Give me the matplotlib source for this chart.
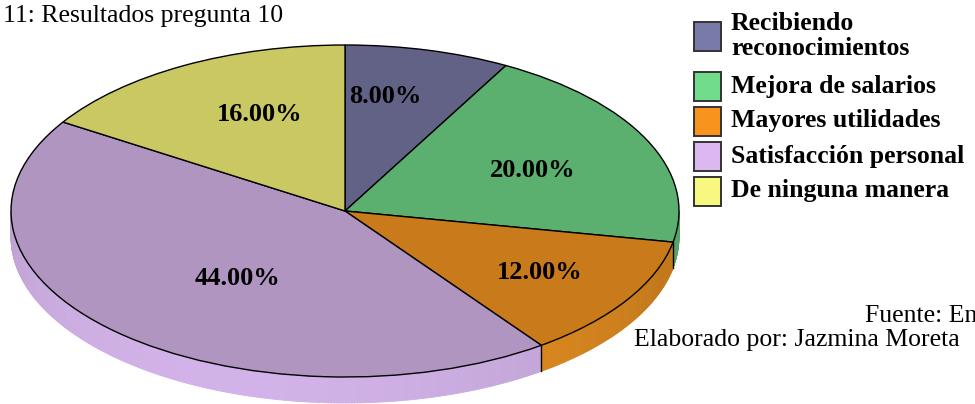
import numpy as np
import matplotlib.pyplot as plt
from matplotlib.patches import Rectangle
from matplotlib.collections import PolyCollection

# respuestas a la pregunta 10 (porcentajes)
categorias = ["Recibiendo\nreconocimientos", "Mejora de salarios", "Mayores utilidades",
              "Satisfacción personal", "De ninguna manera"]
valores = [8.0, 20.0, 12.0, 44.0, 16.0]

color_top = ["#626287", "#5cb06f", "#c97a1b", "#b095c1", "#c9c862"]
color_lado = ["#7070a0", "#66c27e", "#e89020", "#d2b2e8", "#e0e070"]
color_leyenda = ["#7a7aaa", "#70dc8c", "#f8941e", "#dcb8f0", "#f8f880"]

# posicion radial de cada etiqueta (x, y) relativa al radio
lab_rx = [0.48, 0.62, 0.69, 0.47, 0.53]
lab_ry = [0.715, 0.58, 0.69, 0.56, 0.66]

W, H = 975, 404
cx, cy = 345, 211        # centro del pie en pixeles
rx, ry = 334, 166        # semiejes de la elipse
prof = 26 / ry           # grosor del disco

fig = plt.figure(figsize=(W / 100, H / 100), dpi=100)
ax = fig.add_axes([0, 0, 1, 1])

ax.pie(valores, colors=color_top, startangle=90, counterclock=False,
       wedgeprops=dict(edgecolor="black", linewidth=1.0, zorder=3))
ax.set_aspect("auto")
ax.set_xlim(-cx / rx, (W - cx) / rx)
ax.set_ylim(-(H - cy) / ry, cy / ry)
ax.axis("off")

# lado del disco (solo la mitad frontal)
frac = np.array(valores) / sum(valores)
bordes = 90 - 360 * np.concatenate([[0], np.cumsum(frac)])
polys, cols = [], []
for i in range(len(valores)):
    lo = max(bordes[i + 1], -180)
    hi = min(bordes[i], 0)
    if lo >= hi:
        continue
    t = np.radians(np.linspace(lo, hi, int((hi - lo) * 2) + 2))
    base = np.array(plt.matplotlib.colors.to_rgb(color_lado[i]))
    for t0, t1 in zip(t[:-1], t[1:]):
        polys.append([(np.cos(t0), np.sin(t0)), (np.cos(t1), np.sin(t1)),
                      (np.cos(t1), np.sin(t1) - prof), (np.cos(t0), np.sin(t0) - prof)])
        tm = 0.5 * (t0 + t1)
        sombra = 0.84 + 0.16 * np.clip(-np.sin(tm + np.radians(20)), 0, 1)
        cols.append(np.clip(base * sombra, 0, 1))
ax.add_collection(PolyCollection(polys, facecolors=cols, edgecolors=cols,
                                 linewidths=0.6, zorder=1))

# separaciones verticales en el lado
for b in bordes:
    if -180 < b < 0:
        a = np.radians(b)
        ax.plot([np.cos(a), np.cos(a)], [np.sin(a), np.sin(a) - prof],
                color="black", lw=1.0, zorder=2)

# etiquetas de porcentaje
for i, v in enumerate(valores):
    mid = np.radians(0.5 * (bordes[i] + bordes[i + 1]))
    ax.text(lab_rx[i] * np.cos(mid), lab_ry[i] * np.sin(mid), f"{v:.2f}%",
            ha="center", va="center", fontsize=19, fontweight="bold",
            family="Liberation Serif", zorder=5)

# leyenda y textos en pixeles
ov = fig.add_axes([0, 0, 1, 1])
ov.set_xlim(0, W)
ov.set_ylim(H, 0)
ov.axis("off")
ov.patch.set_alpha(0)

box_y = [22, 72, 107, 142, 177]
txt_y = [36, 86, 121, 156, 191]
for i, cat in enumerate(categorias):
    ov.add_patch(Rectangle((694, box_y[i]), 27, 29, facecolor=color_leyenda[i],
                           edgecolor="#333333", linewidth=1.4))
    ov.text(731, txt_y[i], cat, ha="left", va="center", fontsize=18.5,
            fontweight="bold", family="Liberation Serif", linespacing=1.08)

ov.text(3, 16, "11: Resultados pregunta 10", ha="left", va="center",
        fontsize=18.5, family="Liberation Serif")
ov.text(865, 316, "Fuente: Encuesta", ha="left", va="center",
        fontsize=18.5, family="Liberation Serif")
ov.text(634, 340, "Elaborado por: Jazmina Moreta", ha="left", va="center",
        fontsize=18.5, family="Liberation Serif")

fig.savefig("out.png", dpi=100)
